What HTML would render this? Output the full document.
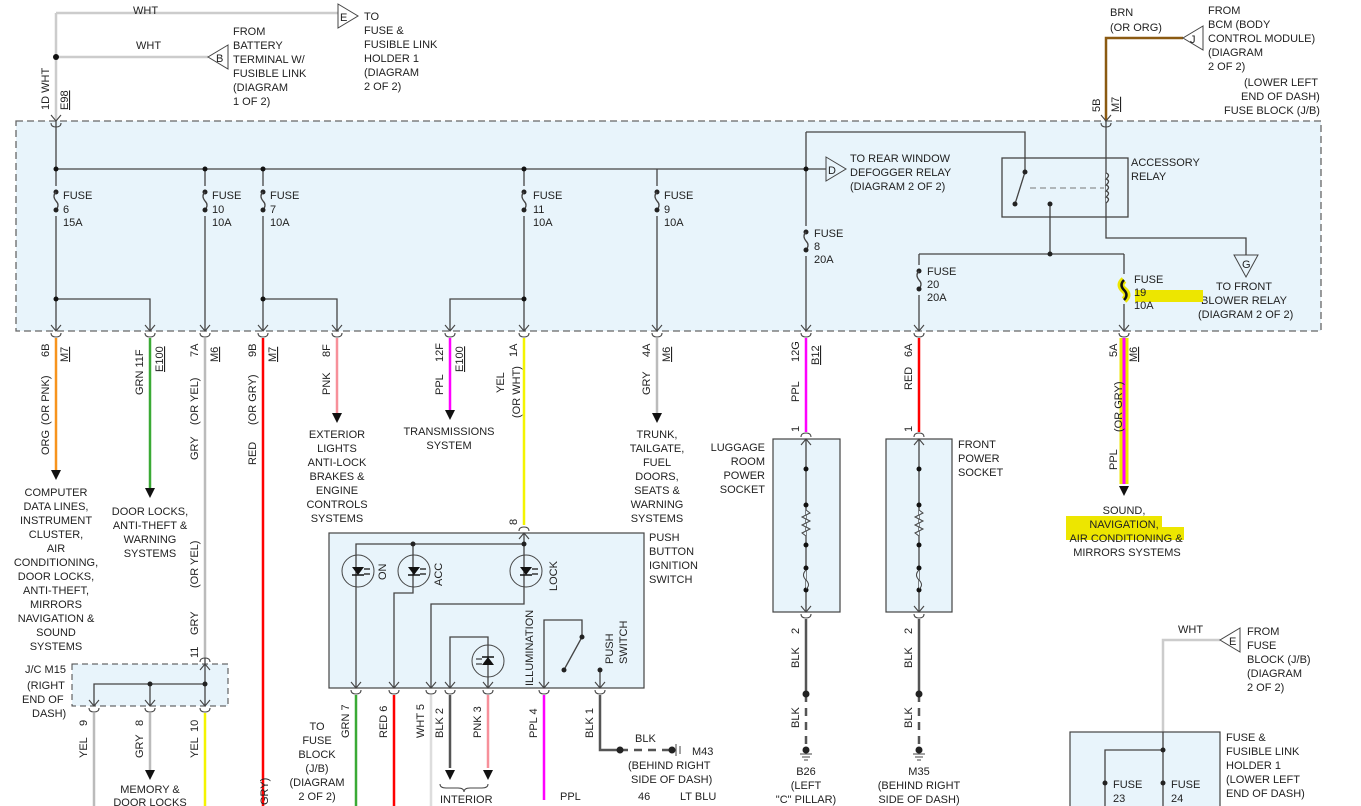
<!DOCTYPE html>
<html><head><style>
body{margin:0;background:#fff}
svg{display:block;font-family:"Liberation Sans",sans-serif;font-size:11px;fill:#222}
.w{fill:none;stroke:#444;stroke-width:1.3}
</style></head><body>
<svg width="1361" height="806" viewBox="0 0 1361 806" xmlns="http://www.w3.org/2000/svg">
<defs>
<g id="fz"><circle cx="0" cy="-9" r="2.5" fill="#222"/><path d="M0,-9 q-4,4 0,9 q4,4 0,9" fill="none" stroke="#444" stroke-width="1.3"/><circle cx="0" cy="9" r="2.5" fill="#222"/></g>
<g id="cn"><path d="M-5,-6 L0,0 L5,-6" fill="none" stroke="#444" stroke-width="1.1"/><path d="M-5,2 q0,4 5,4 q5,0 5,-4" fill="none" stroke="#444" stroke-width="1.1"/></g>
<g id="ar"><path d="M-5,-10 L5,-10 L0,0 Z" fill="#111"/></g>
<g id="led"><circle r="16" fill="none" stroke="#444" stroke-width="1"/><path d="M-6,-4 L6,-4 L0,4 Z" fill="#111"/><path d="M-6,4 L6,4" stroke="#111" stroke-width="1.5"/><path d="M6,-2 h6 M6,3 h6" stroke="#111" stroke-width="1.2"/></g>
</defs>
<rect x="16" y="121" width="1305" height="210" fill="#e8f4fb" stroke="#666" stroke-width="1.3" stroke-dasharray="7,4"/>
<path d="M56,13 H338 M56,57 H208 M56,13 V121" stroke="#ccc" stroke-width="2.5" fill="none"/>
<circle cx="56" cy="57" r="3" fill="#111"/>
<path d="M338,4 L358,16 L338,28 Z" fill="#fff" stroke="#444"/><text x="340" y="21">E</text>
<path d="M228,45 L208,57 L228,69 Z" fill="#fff" stroke="#444"/><text x="216" y="62">B</text>
<text x="133" y="14">WHT</text><text x="136" y="49">WHT</text>
<text x="364" y="20">TO</text><text x="364" y="34">FUSE &amp;</text><text x="364" y="48">FUSIBLE LINK</text><text x="364" y="62">HOLDER 1</text><text x="364" y="76">(DIAGRAM</text><text x="364" y="90">2 OF 2)</text>
<text x="233" y="35">FROM</text><text x="233" y="49">BATTERY</text><text x="233" y="63">TERMINAL W/</text><text x="233" y="77">FUSIBLE LINK</text><text x="233" y="91">(DIAGRAM</text><text x="233" y="105">1 OF 2)</text>
<text transform="translate(49,110) rotate(-90)">1D WHT</text>
<text transform="translate(68,110) rotate(-90)" text-decoration="underline">E98</text>
<use href="#cn" x="56" y="121"/>
<path d="M1106,121 V38 H1183" stroke="#8b5a12" stroke-width="2.5" fill="none"/>
<path d="M1203,26 L1183,38 L1203,50 Z" fill="#fff" stroke="#444"/><text x="1190" y="43">J</text>
<text x="1110" y="16">BRN</text><text x="1110" y="31">(OR ORG)</text>
<text x="1208" y="14">FROM</text><text x="1208" y="28">BCM (BODY</text><text x="1208" y="42">CONTROL MODULE)</text><text x="1208" y="56">(DIAGRAM</text><text x="1208" y="70">2 OF 2)</text>
<text x="1244" y="86">(LOWER LEFT</text><text x="1241" y="100">END OF DASH)</text><text x="1224" y="114">FUSE BLOCK (J/B)</text>
<text transform="translate(1100,112) rotate(-90)">5B</text>
<text transform="translate(1119,112) rotate(-90)" text-decoration="underline">M7</text>
<use href="#cn" x="1106" y="121"/>
<g class="w">
<path d="M56,121 V331 M56,169 H806 M205,169 V331 M263,169 V331 M524,169 V331 M657,169 V331 M806,132 V331 M806,169 H826"/>
<path d="M56,299 H150 V331 M263,299 H337 V331 M524,299 H450 V331"/>
<path d="M806,132 H1025 V172 M1015,204 L1025,172 M1050,204 V254 M919,254 H1124 M919,254 V331 M1124,254 V331"/>
<path d="M1106,121 V238 H1246 V255"/>
<rect x="1002" y="158" width="126" height="59"/>
</g>
<path d="M1030,188 H1104" stroke="#777" stroke-dasharray="6,4"/>
<path d="M1106,173 q5,2 0,6 q5,2 0,6 q5,2 0,6 q5,2 0,6 q5,2 0,6" fill="#e8f4fb" stroke="#444" stroke-width="1.3"/>
<circle cx="1025" cy="172" r="2.5"/><circle cx="1015" cy="204" r="2.5"/><circle cx="1050" cy="204" r="2.5"/><circle cx="1050" cy="254" r="2.5"/>
<g fill="#111"><circle cx="56" cy="169" r="2.5"/><circle cx="205" cy="169" r="2.5"/><circle cx="263" cy="169" r="2.5"/><circle cx="524" cy="169" r="2.5"/><circle cx="806" cy="169" r="2.5"/><circle cx="56" cy="299" r="2.5"/><circle cx="263" cy="299" r="2.5"/><circle cx="524" cy="299" r="2.5"/></g>
<path d="M826,157 L846,169 L826,181 Z" fill="#e8f4fb" stroke="#444"/><text x="828" y="174">D</text>
<text x="850" y="162">TO REAR WINDOW</text><text x="850" y="176">DEFOGGER RELAY</text><text x="850" y="190">(DIAGRAM 2 OF 2)</text>
<text x="1131" y="166">ACCESSORY</text><text x="1131" y="180">RELAY</text>
<path d="M1234,255 L1258,255 L1246,277 Z" fill="#e8f4fb" stroke="#444"/><text x="1242" y="268">G</text>
<text x="1216" y="290">TO FRONT</text><text x="1201" y="304">BLOWER RELAY</text><text x="1198" y="318">(DIAGRAM 2 OF 2)</text>
<g>
<rect x="50" y="186" width="12" height="30" fill="#e8f4fb"/><use href="#fz" x="56" y="201"/><text x="63" y="199">FUSE</text><text x="63" y="213">6</text><text x="63" y="226">15A</text>
<rect x="199" y="186" width="12" height="30" fill="#e8f4fb"/><use href="#fz" x="205" y="201"/><text x="212" y="199">FUSE</text><text x="212" y="213">10</text><text x="212" y="226">10A</text>
<rect x="257" y="186" width="12" height="30" fill="#e8f4fb"/><use href="#fz" x="263" y="201"/><text x="270" y="199">FUSE</text><text x="270" y="213">7</text><text x="270" y="226">10A</text>
<rect x="518" y="186" width="12" height="30" fill="#e8f4fb"/><use href="#fz" x="524" y="201"/><text x="533" y="199">FUSE</text><text x="533" y="213">11</text><text x="533" y="226">10A</text>
<rect x="651" y="186" width="12" height="30" fill="#e8f4fb"/><use href="#fz" x="657" y="201"/><text x="664" y="199">FUSE</text><text x="664" y="213">9</text><text x="664" y="226">10A</text>
<rect x="800" y="226" width="12" height="30" fill="#e8f4fb"/><use href="#fz" x="806" y="241"/><text x="814" y="237">FUSE</text><text x="814" y="250">8</text><text x="814" y="263">20A</text>
<rect x="913" y="265" width="12" height="30" fill="#e8f4fb"/><use href="#fz" x="919" y="280"/><text x="927" y="275">FUSE</text><text x="927" y="288">20</text><text x="927" y="301">20A</text>
<rect x="1135" y="290" width="68" height="12" fill="#ede600"/>
<rect x="1118" y="274" width="12" height="30" fill="#e8f4fb"/>
<path d="M1124,280 q-6,5 0,10 q6,5 0,10" fill="none" stroke="#ede600" stroke-width="7"/>
<path d="M1124,280 q-5,5 0,10 q5,5 0,10" fill="none" stroke="#111" stroke-width="2.5"/>
<text x="1134" y="283">FUSE</text><text x="1134" y="296">19</text><text x="1134" y="309">10A</text>
</g>
<g><use href="#cn" x="56" y="331"/><use href="#cn" x="150" y="331"/><use href="#cn" x="205" y="331"/><use href="#cn" x="263" y="331"/><use href="#cn" x="337" y="331"/><use href="#cn" x="450" y="331"/><use href="#cn" x="524" y="331"/><use href="#cn" x="657" y="331"/><use href="#cn" x="806" y="331"/><use href="#cn" x="919" y="331"/><use href="#cn" x="1124" y="331"/></g>
<path d="M56,338 V470" stroke="#f7941d" stroke-width="2.5"/><use href="#ar" x="56" y="480"/>
<path d="M150,338 V488" stroke="#3aaa35" stroke-width="2.5"/><use href="#ar" x="150" y="498"/>
<path d="M205,338 V658" stroke="#bbb" stroke-width="2.5"/>
<path d="M263,338 V806" stroke="#f00" stroke-width="2.5"/>
<path d="M337,338 V413" stroke="#f7909a" stroke-width="2.5"/><use href="#ar" x="337" y="423"/>
<path d="M450,338 V410" stroke="#f0f" stroke-width="2.5"/><use href="#ar" x="450" y="420"/>
<path d="M524,338 V525" stroke="#f4f400" stroke-width="2.5"/>
<path d="M657,338 V413" stroke="#bbb" stroke-width="2.5"/><use href="#ar" x="657" y="423"/>
<path d="M806,338 V432" stroke="#f0f" stroke-width="2.5"/>
<path d="M919,338 V432" stroke="#f00" stroke-width="2.5"/>
<path d="M1124,338 V484" stroke="#ede600" stroke-width="9"/><path d="M1124,338 V484" stroke="#f0f" stroke-width="3"/><use href="#ar" x="1124" y="496"/>
<g>
<text transform="translate(49,357) rotate(-90)">6B</text><text transform="translate(68,362) rotate(-90)" text-decoration="underline">M7</text>
<text transform="translate(49,425) rotate(-90)">(OR PNK)</text><text transform="translate(49,455) rotate(-90)">ORG</text>
<text transform="translate(143,395) rotate(-90)">GRN 11F</text><text transform="translate(163,372) rotate(-90)" text-decoration="underline">E100</text>
<text transform="translate(198,357) rotate(-90)">7A</text><text transform="translate(218,362) rotate(-90)" text-decoration="underline">M6</text>
<text transform="translate(198,425) rotate(-90)">(OR YEL)</text><text transform="translate(198,460) rotate(-90)">GRY</text>
<text transform="translate(198,588) rotate(-90)">(OR YEL)</text><text transform="translate(198,635) rotate(-90)">GRY</text>
<text transform="translate(256,357) rotate(-90)">9B</text><text transform="translate(276,362) rotate(-90)" text-decoration="underline">M7</text>
<text transform="translate(256,425) rotate(-90)">(OR GRY)</text><text transform="translate(256,465) rotate(-90)">RED</text>
<text transform="translate(330,357) rotate(-90)">8F</text><text transform="translate(330,395) rotate(-90)">PNK</text>
<text transform="translate(443,362) rotate(-90)">12F</text><text transform="translate(463,372) rotate(-90)" text-decoration="underline">E100</text>
<text transform="translate(443,395) rotate(-90)">PPL</text>
<text transform="translate(517,357) rotate(-90)">1A</text><text transform="translate(504,393) rotate(-90)">YEL</text><text transform="translate(520,418) rotate(-90)">(OR WHT)</text>
<text transform="translate(650,357) rotate(-90)">4A</text><text transform="translate(670,362) rotate(-90)" text-decoration="underline">M6</text><text transform="translate(650,395) rotate(-90)">GRY</text>
<text transform="translate(799,362) rotate(-90)">12G</text><text transform="translate(819,365) rotate(-90)" text-decoration="underline">B12</text><text transform="translate(799,402) rotate(-90)">PPL</text>
<text transform="translate(912,357) rotate(-90)">6A</text><text transform="translate(912,390) rotate(-90)">RED</text>
<text transform="translate(1117,357) rotate(-90)">5A</text><text transform="translate(1137,362) rotate(-90)" text-decoration="underline">M6</text>
<text transform="translate(1122,432) rotate(-90)">(OR GRY)</text><text transform="translate(1117,470) rotate(-90)">PPL</text>
</g>
<g text-anchor="middle">
<text x="56" y="496">COMPUTER</text><text x="56" y="510">DATA LINES,</text><text x="56" y="524">INSTRUMENT</text><text x="56" y="538">CLUSTER,</text><text x="56" y="552">AIR</text><text x="56" y="566">CONDITIONING,</text><text x="56" y="580">DOOR LOCKS,</text><text x="56" y="594">ANTI-THEFT,</text><text x="56" y="608">MIRRORS</text><text x="56" y="622">NAVIGATION &amp;</text><text x="56" y="636">SOUND</text><text x="56" y="650">SYSTEMS</text>
<text x="150" y="515">DOOR LOCKS,</text><text x="150" y="529">ANTI-THEFT &amp;</text><text x="150" y="543">WARNING</text><text x="150" y="557">SYSTEMS</text>
<text x="337" y="438">EXTERIOR</text><text x="337" y="452">LIGHTS</text><text x="337" y="466">ANTI-LOCK</text><text x="337" y="480">BRAKES &amp;</text><text x="337" y="494">ENGINE</text><text x="337" y="508">CONTROLS</text><text x="337" y="522">SYSTEMS</text>
<text x="449" y="435">TRANSMISSIONS</text><text x="449" y="449">SYSTEM</text>
<text x="657" y="438">TRUNK,</text><text x="657" y="452">TAILGATE,</text><text x="657" y="466">FUEL</text><text x="657" y="480">DOORS,</text><text x="657" y="494">SEATS &amp;</text><text x="657" y="508">WARNING</text><text x="657" y="522">SYSTEMS</text>
</g>
<path d="M1066,516 H1162 V528 H1066 Z M1066,527 H1184 V540 H1066 Z" fill="#ede600"/>
<g text-anchor="middle"><text x="1124" y="514">SOUND,</text><text x="1124" y="528">NAVIGATION,</text><text x="1126" y="542">AIR CONDITIONING &amp;</text><text x="1127" y="556">MIRRORS SYSTEMS</text></g>
<rect x="72" y="664" width="156" height="42" fill="#e8f4fb" stroke="#444" stroke-dasharray="6,4"/>
<path d="M205,658 V706 M205,684 H94 V706 M150,684 V706" class="w"/>
<circle cx="150" cy="684" r="2.5"/><circle cx="205" cy="684" r="2.5"/>
<use href="#cn" x="205" y="664" transform="rotate(180 205 664)"/><use href="#cn" x="94" y="706"/><use href="#cn" x="150" y="706"/><use href="#cn" x="205" y="706"/>
<text transform="translate(198,658) rotate(-90)">11</text>
<text x="25" y="673">J/C M15</text><text x="27" y="689">(RIGHT</text><text x="22" y="703">END OF</text><text x="32" y="717">DASH)</text>
<path d="M94,713 V806" stroke="#bbb" stroke-width="2.5"/><path d="M150,713 V770" stroke="#bbb" stroke-width="2.5"/><use href="#ar" x="150" y="780"/><path d="M205,713 V806" stroke="#f4f400" stroke-width="2.5"/>
<text transform="translate(87,726) rotate(-90)">9</text><text transform="translate(87,758) rotate(-90)">YEL</text>
<text transform="translate(143,726) rotate(-90)">8</text><text transform="translate(143,758) rotate(-90)">GRY</text>
<text transform="translate(198,732) rotate(-90)">10</text><text transform="translate(198,758) rotate(-90)">YEL</text>
<text x="150" y="793" text-anchor="middle">MEMORY &amp;</text><text x="150" y="806" text-anchor="middle">DOOR LOCKS</text>
<text transform="translate(268,805) rotate(-90)">GRY)</text>
<rect x="329" y="533" width="315" height="155" fill="#e8f4fb" stroke="#444" stroke-width="1.2"/>
<use href="#cn" x="524" y="533" transform="rotate(180 524 533)"/>
<text transform="translate(517,525) rotate(-90)">8</text>
<g class="w">
<path d="M524,533 V604 H431 V688 M356,688 V544 H524 M413,544 V593 H394 V688 M450,688 V637 H488 V688 M544,688 V620 H582 V637 M600,688 V670"/>
</g>
<path d="M582,637 L565,668" stroke="#444" stroke-width="1.3"/>
<circle cx="582" cy="637" r="2.5"/><circle cx="564" cy="670" r="2.5"/><circle cx="600" cy="670" r="2.5"/><circle cx="413" cy="544" r="2.5"/><circle cx="524" cy="544" r="2.5"/>
<use href="#led" x="358" y="571"/><use href="#led" x="414" y="571"/><use href="#led" x="526" y="571"/>
<g transform="translate(488,661)"><circle r="16" fill="none" stroke="#444" stroke-width="1"/><path d="M-6,4 L6,4 L0,-4 Z" fill="#111"/><path d="M-6,-4 H6" stroke="#111" stroke-width="1.5"/><path d="M-12,-2 h6 M-12,3 h6" stroke="#111"/></g>
<text transform="translate(386,580) rotate(-90)">ON</text><text transform="translate(442,586) rotate(-90)">ACC</text><text transform="translate(557,591) rotate(-90)">LOCK</text>
<text transform="translate(533,686) rotate(-90)">ILLUMINATION</text><text transform="translate(613,664) rotate(-90)">PUSH</text><text transform="translate(627,664) rotate(-90)">SWITCH</text>
<text x="649" y="541">PUSH</text><text x="649" y="555">BUTTON</text><text x="649" y="569">IGNITION</text><text x="649" y="583">SWITCH</text>
<g><use href="#cn" x="356" y="688"/><use href="#cn" x="394" y="688"/><use href="#cn" x="431" y="688"/><use href="#cn" x="450" y="688"/><use href="#cn" x="488" y="688"/><use href="#cn" x="544" y="688"/><use href="#cn" x="600" y="688"/></g>
<path d="M356,695 V806" stroke="#3aaa35" stroke-width="2.5"/><path d="M394,695 V806" stroke="#f00" stroke-width="2.5"/><path d="M431,695 V806" stroke="#ddd" stroke-width="2.5"/>
<path d="M450,695 V768" stroke="#555" stroke-width="2.5"/><use href="#ar" x="450" y="780"/>
<path d="M488,695 V768" stroke="#f7909a" stroke-width="2.5"/><use href="#ar" x="488" y="780"/>
<path d="M544,695 V800" stroke="#f0f" stroke-width="2.5"/>
<path d="M600,695 V750 H620" stroke="#555" stroke-width="2.5" fill="none"/><path d="M620,750 H672" stroke="#555" stroke-width="2.5" stroke-dasharray="8,6"/>
<circle cx="620" cy="750" r="3.5"/><circle cx="672" cy="750" r="3.5"/><path d="M676,744 V756 M680,746 V754" stroke="#444"/>
<path d="M440,784 q0,4 6,4 h12 q6,0 6,4 q0,-4 6,-4 h12 q6,0 6,-4" fill="none" stroke="#444"/>
<text x="440" y="803">INTERIOR</text>
<text transform="translate(349,738) rotate(-90)">GRN 7</text><text transform="translate(387,738) rotate(-90)">RED 6</text><text transform="translate(424,738) rotate(-90)">WHT 5</text><text transform="translate(443,738) rotate(-90)">BLK 2</text><text transform="translate(481,738) rotate(-90)">PNK 3</text><text transform="translate(537,738) rotate(-90)">PPL 4</text><text transform="translate(593,738) rotate(-90)">BLK 1</text>
<g text-anchor="middle"><text x="317" y="730">TO</text><text x="317" y="744">FUSE</text><text x="317" y="758">BLOCK</text><text x="317" y="772">(J/B)</text><text x="317" y="786">(DIAGRAM</text><text x="317" y="800">2 OF 2)</text></g>
<text x="635" y="742">BLK</text><text x="692" y="755">M43</text><text x="628" y="769">(BEHIND RIGHT</text><text x="631" y="783">SIDE OF DASH)</text><text x="638" y="800">46</text><text x="680" y="800">LT BLU</text><text x="560" y="800">PPL</text>
<g>
<rect x="773" y="439" width="67" height="173" fill="#e8f4fb" stroke="#444" stroke-width="1.2"/>
<rect x="886" y="439" width="66" height="173" fill="#e8f4fb" stroke="#444" stroke-width="1.2"/>
<path d="M806,439 V612 M919,439 V612" class="w"/>
<g fill="#111"><circle cx="806" cy="469" r="2.5"/><circle cx="806" cy="505" r="2.5"/><circle cx="806" cy="545" r="2.5"/><circle cx="806" cy="568" r="2.5"/><circle cx="806" cy="590" r="2.5"/>
<circle cx="919" cy="469" r="2.5"/><circle cx="919" cy="505" r="2.5"/><circle cx="919" cy="545" r="2.5"/><circle cx="919" cy="568" r="2.5"/><circle cx="919" cy="590" r="2.5"/></g>
<path d="M806,510 l4,3 l-8,4 l8,4 l-8,4 l8,4 l-8,4 l4,3" fill="#e8f4fb" stroke="#444"/>
<path d="M919,510 l4,3 l-8,4 l8,4 l-8,4 l8,4 l-8,4 l4,3" fill="#e8f4fb" stroke="#444"/>
<path d="M806,570 q-5,5 0,10 q5,5 0,9" fill="#e8f4fb" stroke="#444"/><path d="M919,570 q-5,5 0,10 q5,5 0,9" fill="#e8f4fb" stroke="#444"/>
<use href="#cn" x="806" y="439" transform="rotate(180 806 439)"/><use href="#cn" x="919" y="439" transform="rotate(180 919 439)"/>
<use href="#cn" x="806" y="612"/><use href="#cn" x="919" y="612"/>
<text transform="translate(799,432) rotate(-90)">1</text><text transform="translate(912,432) rotate(-90)">1</text>
<text transform="translate(799,634) rotate(-90)">2</text><text transform="translate(912,634) rotate(-90)">2</text>
<path d="M806,619 V694 M919,619 V694" stroke="#555" stroke-width="2.5"/>
<path d="M806,694 V750 M919,694 V750" stroke="#555" stroke-width="2.5" stroke-dasharray="8,6"/>
<circle cx="806" cy="694" r="3.5"/><circle cx="919" cy="694" r="3.5"/><circle cx="806" cy="750" r="3.5"/><circle cx="919" cy="750" r="3.5"/>
<path d="M800,754 h12 M802,757 h8 M804,760 h4 M913,754 h12 M915,757 h8 M917,760 h4" stroke="#444"/>
<text transform="translate(799,668) rotate(-90)">BLK</text><text transform="translate(912,668) rotate(-90)">BLK</text>
<text transform="translate(799,728) rotate(-90)">BLK</text><text transform="translate(912,728) rotate(-90)">BLK</text>
<g text-anchor="end"><text x="765" y="451">LUGGAGE</text><text x="765" y="465">ROOM</text><text x="765" y="479">POWER</text><text x="765" y="493">SOCKET</text></g>
<text x="958" y="448">FRONT</text><text x="958" y="462">POWER</text><text x="958" y="476">SOCKET</text>
<g text-anchor="middle"><text x="806" y="775">B26</text><text x="806" y="789">(LEFT</text><text x="806" y="803">"C" PILLAR)</text>
<text x="919" y="775">M35</text><text x="919" y="789">(BEHIND RIGHT</text><text x="919" y="803">SIDE OF DASH)</text></g>
</g>
<path d="M1163,732 V640 H1220" stroke="#ccc" stroke-width="2.5" fill="none"/>
<path d="M1240,628 L1220,640 L1240,652 Z" fill="#fff" stroke="#444"/><text x="1229" y="645">E</text>
<text x="1178" y="633">WHT</text>
<text x="1247" y="635">FROM</text><text x="1247" y="649">FUSE</text><text x="1247" y="663">BLOCK (J/B)</text><text x="1247" y="677">(DIAGRAM</text><text x="1247" y="691">2 OF 2)</text>
<rect x="1070" y="732" width="150" height="80" fill="#e8f4fb" stroke="#444" stroke-width="1.2"/>
<path d="M1163,732 V806 M1163,750 H1105 V806" class="w"/><circle cx="1163" cy="750" r="2.5"/>
<circle cx="1105" cy="783" r="2.5"/><circle cx="1163" cy="783" r="2.5"/>
<text x="1113" y="788">FUSE</text><text x="1113" y="802">23</text><text x="1171" y="788">FUSE</text><text x="1171" y="802">24</text>
<text x="1226" y="741">FUSE &amp;</text><text x="1226" y="755">FUSIBLE LINK</text><text x="1226" y="769">HOLDER 1</text><text x="1226" y="783">(LOWER LEFT</text><text x="1226" y="797">END OF DASH)</text>
</svg>
</body></html>
